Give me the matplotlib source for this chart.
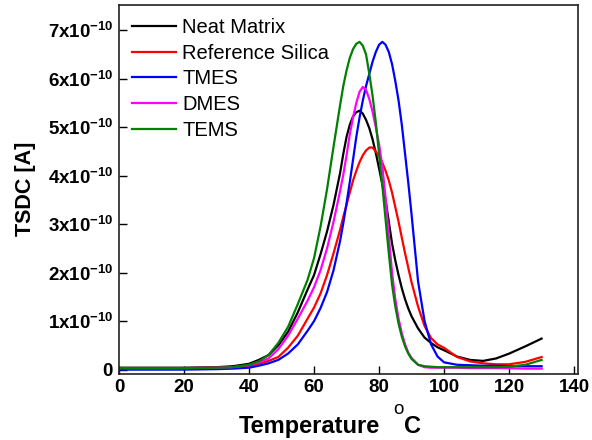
import matplotlib
matplotlib.use("Agg")
import matplotlib.pyplot as plt
from matplotlib.ticker import FixedLocator, FuncFormatter

plt.rcParams['font.family'] = ['Liberation Sans', 'DejaVu Sans']
plt.rcParams['mathtext.fontset'] = 'custom'
plt.rcParams['mathtext.rm'] = 'Liberation Sans'
plt.rcParams['mathtext.bf'] = 'Liberation Sans:bold'
plt.rcParams['mathtext.it'] = 'Liberation Sans:italic'

series_names = ["Neat Matrix", "Reference Silica", "TMES", "DMES", "TEMS"]
series_colors = ["black", "red", "blue", "magenta", "green"]

# temperatures (°C) and TSDC values in units of 1e-10 A
temp = [0, 10, 20, 30, 35, 40, 43, 46, 49, 52, 55, 58, 60, 62, 64, 66, 68, 69,
        70, 71, 72, 73, 74, 75, 76, 77, 78, 79, 80, 81, 82, 83, 84, 85, 86,
        87, 88, 89, 90, 92, 94, 96, 98, 100, 104, 108, 112, 116, 120, 125, 130]

neat_matrix = [0.04, 0.04, 0.04, 0.05, 0.07, 0.12, 0.2, 0.3, 0.5, 0.78, 1.18,
               1.65, 1.95, 2.38, 2.85, 3.4, 4.05, 4.45, 4.8, 5.05, 5.22, 5.31,
               5.34, 5.28, 5.15, 4.98, 4.75, 4.47, 4.15, 3.82, 3.5, 3.05, 2.6,
               2.25, 1.95, 1.68, 1.45, 1.26, 1.1, 0.85, 0.66, 0.55, 0.46, 0.4,
               0.27, 0.2, 0.18, 0.23, 0.33, 0.48, 0.64]

reference_silica = [0.03, 0.03, 0.03, 0.04, 0.05, 0.07, 0.12, 0.18, 0.26,
                    0.45, 0.7, 1.05, 1.28, 1.57, 1.95, 2.4, 2.88, 3.15, 3.4,
                    3.65, 3.9, 4.1, 4.28, 4.42, 4.52, 4.58, 4.58, 4.5, 4.4,
                    4.27, 4.1, 3.9, 3.65, 3.35, 3.05, 2.72, 2.4, 2.1, 1.8, 1.3,
                    0.9, 0.65, 0.52, 0.45, 0.26, 0.17, 0.13, 0.11, 0.11, 0.16,
                    0.26]

tmes = [0.0, 0.0, 0.0, 0.01, 0.02, 0.04, 0.08, 0.13, 0.2, 0.33, 0.52, 0.8,
        1.0, 1.27, 1.6, 2.05, 2.65, 3.02, 3.43, 3.87, 4.33, 4.8, 5.2, 5.55,
        5.85, 6.1, 6.35, 6.55, 6.7, 6.76, 6.7, 6.55, 6.3, 5.95, 5.55, 5.05,
        4.45, 3.85, 3.2, 1.82, 1.0, 0.52, 0.27, 0.15, 0.1, 0.09, 0.08, 0.08,
        0.07, 0.07, 0.07]

dmes = [0.03, 0.03, 0.03, 0.04, 0.05, 0.09, 0.15, 0.23, 0.42, 0.7, 1.05, 1.42,
        1.7, 2.05, 2.5, 3.05, 3.68, 4.02, 4.42, 4.85, 5.2, 5.5, 5.73, 5.83,
        5.77, 5.58, 5.32, 5.0, 4.65, 4.2, 3.55, 2.75, 2.0, 1.45, 1.05, 0.75,
        0.52, 0.35, 0.24, 0.1, 0.05, 0.04, 0.04, 0.04, 0.04, 0.03, 0.03, 0.03,
        0.03, 0.02, 0.02]

tems = [0.03, 0.03, 0.03, 0.04, 0.05, 0.1, 0.17, 0.3, 0.55, 0.88, 1.35, 1.85,
        2.3, 2.95, 3.72, 4.6, 5.45, 5.85, 6.17, 6.43, 6.61, 6.72, 6.76, 6.68,
        6.5, 6.1, 5.65, 5.1, 4.45, 3.8, 3.1, 2.4, 1.75, 1.3, 0.95, 0.68, 0.48,
        0.33, 0.22, 0.1, 0.07, 0.06, 0.05, 0.05, 0.05, 0.05, 0.05, 0.05, 0.06,
        0.1, 0.2]

all_series = [neat_matrix, reference_silica, tmes, dmes, tems]

x_ticks = [0, 20, 40, 60, 80, 100, 120, 140]
y_ticks = [0, 1, 2, 3, 4, 5, 6, 7]

W, H = 592, 440
fig = plt.figure(figsize=(W / 100, H / 100), dpi=100)
ax = fig.add_axes([119 / W, 1 - 373.5 / H, (578 - 119) / W, (373.5 - 5) / H])

scale = 1e-10
for name, color, vals in zip(series_names, series_colors, all_series):
    ax.plot(temp, [v * scale for v in vals], color=color, lw=1.6, label=name)

ax.set_xlim(0, 141.2)
ax.set_ylim(-0.08e-10, 7.52e-10)
ax.xaxis.set_major_locator(FixedLocator(x_ticks))
ax.yaxis.set_major_locator(FixedLocator([t * scale for t in y_ticks]))


def yfmt(v, pos):
    n = int(round(v / scale))
    if n == 0:
        return r"$\mathbf{0}$"
    return r"$\mathbf{%dx10^{-10}}$" % n


ax.yaxis.set_major_formatter(FuncFormatter(yfmt))
ax.tick_params(direction='in', length=6, width=1.0, labelsize=13.5, pad=4)
for lab in ax.get_xticklabels():
    lab.set_fontweight('bold')
for sp in ax.spines.values():
    sp.set_linewidth(1.2)
    sp.set_color('#222222')

ax.set_ylabel("TSDC [A]", fontsize=15.5, fontweight='bold', labelpad=8.5)

# x label: "Temperature", raised "o", "C"
fig.text(239 / W, 1 - 433 / H, "Temperature", fontsize=17, fontweight='bold',
         ha='left', va='baseline')
fig.text(393 / W, 1 - 413.5 / H, "o", fontsize=13.5, ha='left',
         va='baseline')
fig.text(404 / W, 1 - 433 / H, "C", fontsize=17, fontweight='bold',
         ha='left', va='baseline')

leg = ax.legend(loc='upper left', frameon=False, fontsize=14.5,
                handlelength=2.2, handletextpad=0.3, labelspacing=0.33,
                borderaxespad=0.35, borderpad=0.3)

fig.savefig("out.png", dpi=100)
